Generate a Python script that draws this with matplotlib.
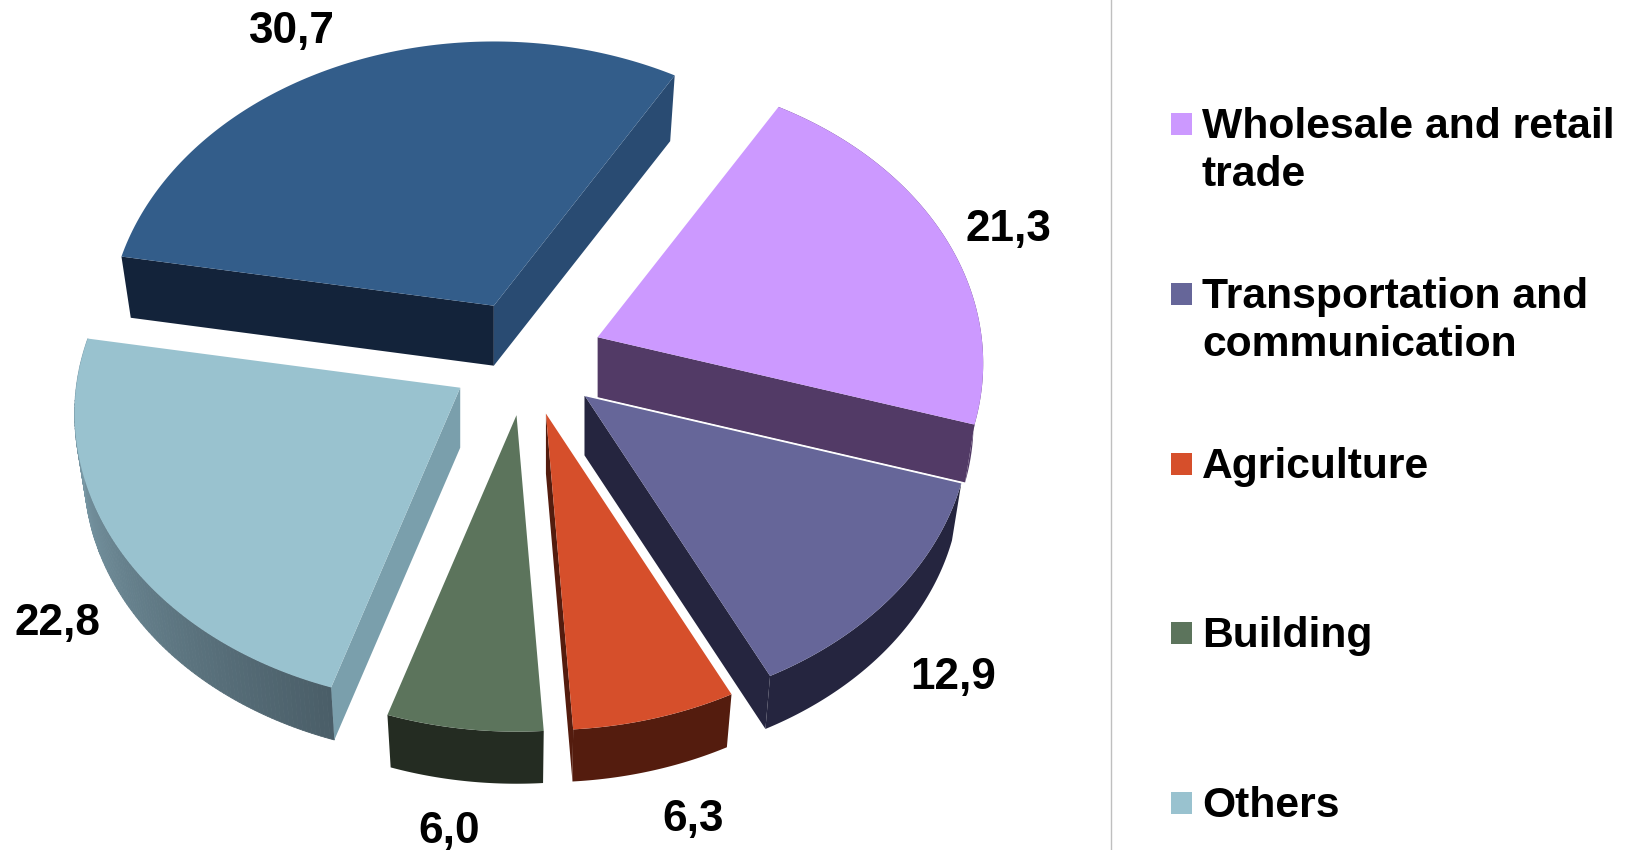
import numpy as np
import matplotlib
matplotlib.use("Agg")
import matplotlib.pyplot as plt
from matplotlib.patches import Polygon, Rectangle
from matplotlib.colors import to_rgb

# data, clockwise from the top right slice
# the 30,7 slice has no row in the legend of the reference
sectors = ["Wholesale and retail\ntrade", "Transportation and\ncommunication",
           "Agriculture", "Building", "Others"]
slice_values = [21.3, 12.9, 6.3, 6.0, 22.8, 30.7]
value_labels = ["21,3", "12,9", "6,3", "6,0", "22,8", "30,7"]

# styles per slice: top face, start wall, end wall, outer wall
top_colors = ["#CC99FF", "#666699", "#D64F2B", "#5C745C", "#99C2CF", "#335D8A"]
start_walls = [None, None, None, None, "#7A9FAC", "#13233A"]
end_walls = ["#523A66", "#25253F", "#541C0E", None, None, "#294B72"]
outer_walls = ["#523A66", "#25253F", "#541C0E", "#242C22", "gradient", None]
gradient_ends = ("#4A5E68", "#86A8B6")  # front to left of the Others wall
draw_order = [5, 0, 4, 1, 3, 2]

# layout of the tilted pie in pixels
first_angle = 30.5
radius_x, radius_y = 384, 288
perspective = 0.09
center = (526, 358)
explode = 0.2
depth = 60
bottom_scale = 0.975
label_xy = [(1008, 229), (953, 678), (693, 820), (449, 831), (58, 624), (292, 31)]
legend_y = [124, 294, 464, 633, 803]


def rim(theta):
    theta = np.radians(theta)
    s = 1 / (1 + perspective * np.cos(theta))
    return radius_x * np.sin(theta) * s, -radius_y * np.cos(theta) * s


fig = plt.figure(figsize=(16.3, 8.5), dpi=100)
ax = fig.add_axes([0, 0, 1, 1])
ax.set_xlim(0, 1630)
ax.set_ylim(850, 0)
ax.axis("off")

angles = first_angle + np.cumsum([0] + slice_values) * 3.6

for i in draw_order:
    a0, a1 = angles[i], angles[i + 1]
    mid = np.radians((a0 + a1) / 2)
    ax0 = center[0] + explode * radius_x * np.sin(mid)
    ay0 = center[1] - explode * radius_y * np.cos(mid)

    arc = np.linspace(a0, a1, 120)
    rx, ry = rim(arc)
    top_x, top_y = ax0 + rx, ay0 + ry
    low_x, low_y = ax0 + rx * bottom_scale, ay0 + ry * bottom_scale + depth

    if outer_walls[i] == "gradient":
        c_front = np.array(to_rgb(gradient_ends[0]))
        c_back = np.array(to_rgb(gradient_ends[1]))
        for k in range(len(arc) - 1):
            t = k / (len(arc) - 2)
            col = c_front * (1 - t) + c_back * t
            quad = [(top_x[k], top_y[k]), (top_x[k + 1], top_y[k + 1]),
                    (low_x[k + 1], low_y[k + 1]), (low_x[k], low_y[k])]
            ax.add_patch(Polygon(quad, facecolor=col, edgecolor=col, lw=0.6))
    elif outer_walls[i] is not None:
        quad = np.vstack([np.c_[top_x, top_y], np.c_[low_x, low_y][::-1]])
        ax.add_patch(Polygon(quad, facecolor=outer_walls[i], edgecolor="none"))

    # radial walls
    if start_walls[i] is not None:
        quad = [(ax0, ay0), (top_x[0], top_y[0]), (low_x[0], low_y[0]), (ax0, ay0 + depth)]
        ax.add_patch(Polygon(quad, facecolor=start_walls[i], edgecolor="none"))
    if end_walls[i] is not None:
        quad = [(ax0, ay0), (top_x[-1], top_y[-1]), (low_x[-1], low_y[-1]), (ax0, ay0 + depth)]
        ax.add_patch(Polygon(quad, facecolor=end_walls[i], edgecolor="none"))

    face = np.vstack([[(ax0, ay0)], np.c_[top_x, top_y]])
    ax.add_patch(Polygon(face, facecolor=top_colors[i], edgecolor="none"))

    # the thin white seam on top of the Transportation slice
    if i == 1:
        ax.plot([ax0, top_x[0]], [ay0, top_y[0]], color="white", lw=1)

for (x, y), txt in zip(label_xy, value_labels):
    ax.text(x, y, txt, fontsize=31.8, fontweight="bold", family="Liberation Sans",
            ha="center", va="center", color="black")

# legend, drawn by hand because the rows sit on an even 170px step
ax.plot([1111, 1111], [0, 850], color="#BFBFBF", lw=1)
for y, name, col in zip(legend_y, sectors, top_colors):
    ax.add_patch(Rectangle((1171, y - 11), 21, 22, facecolor=col, edgecolor="none"))
    ax.text(1202, y - 17, name, fontsize=30.7, fontweight="bold", family="Liberation Sans",
            ha="left", va="top", color="black", linespacing=1.27)

fig.savefig("out.png", dpi=100)
